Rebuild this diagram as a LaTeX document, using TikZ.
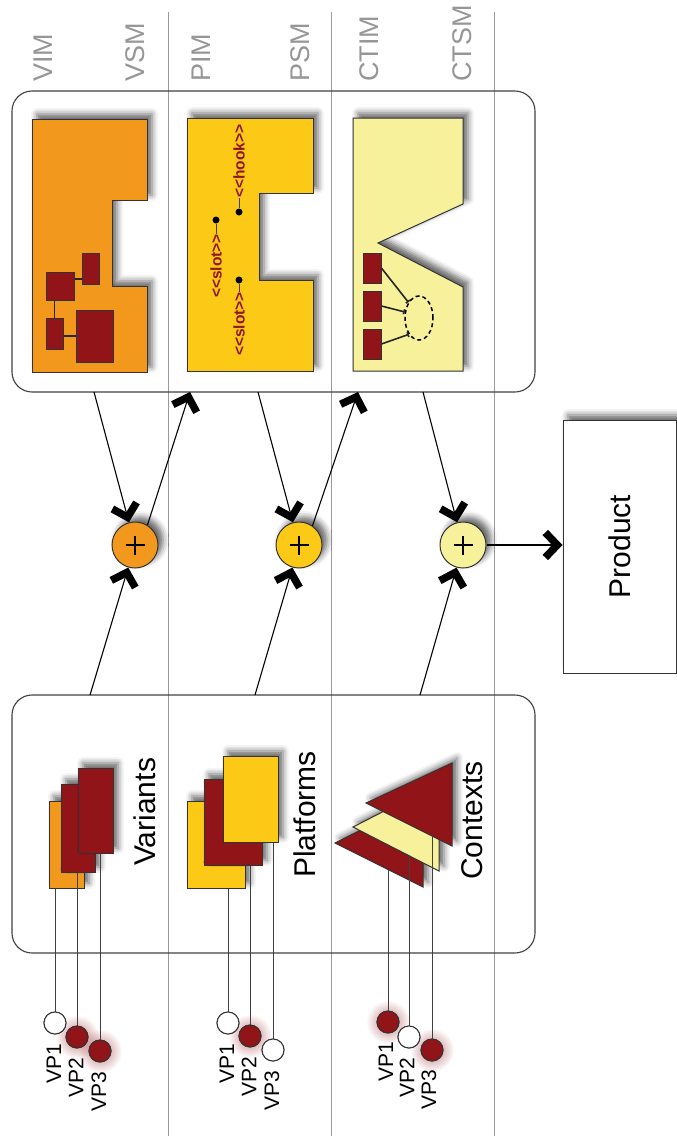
\documentclass[tikz,border=0pt]{standalone}
\usepackage{fontspec}
\setmainfont{Liberation Sans}
\newfontfamily\stereofont{Liberation Sans}[Ligatures=TeXOff]
\usetikzlibrary{arrows.meta,shadows.blur,fadings,shapes.geometric}
\definecolor{vorange}{RGB}{242,153,29}
\definecolor{pyellow}{RGB}{252,202,22}
\definecolor{cpale}{RGB}{247,241,155}
\definecolor{dred}{RGB}{145,20,25}
\definecolor{lanegray}{RGB}{155,155,155}
\definecolor{labgray}{RGB}{150,150,150}
\tikzfading[name=glowfade, inner color=transparent!0, outer color=transparent!100]
\begin{document}
\begin{tikzpicture}[x=1pt,y=-1pt,
  lane/.style={draw=lanegray, line width=1pt},
  bigbox/.style={draw=black!75, line width=1.1pt, rounded corners=20pt, inner sep=0},
  shad/.style={blur shadow={shadow xshift=5pt, shadow yshift=5pt, shadow blur radius=6pt, shadow opacity=60}},
  shapeb/.style={draw=black!80, line width=1pt, line join=miter, shad},
  rectb/.style={draw=black!80, line width=1pt, shad, inner sep=0},
  blk/.style={fill=dred, draw=black!80, line width=0.8pt, inner sep=0},
  conn/.style={draw=black!85, line width=1.6pt},
  stem/.style={draw=black!75, line width=1pt},
  plusc/.style={circle, draw=black!80, line width=1pt, minimum size=46pt, inner sep=0, shad},
  arr/.style={draw=black, line width=1.1pt, -{Straight Barb[sharp, length=12pt, width=25pt, line width=7.5pt]}},
  toplab/.style={text=labgray, font=\fontsize{27}{30}\selectfont, rotate=90, anchor=west, inner sep=0},
  biglab/.style={font=\fontsize{30}{34}\selectfont, rotate=90, anchor=west, inner sep=0},
  vplab/.style={font=\fontsize{21}{24}\selectfont, rotate=90, anchor=east, inner sep=0},
  vpw/.style={circle, draw=black!80, fill=white, line width=1pt, minimum size=22pt, inner sep=0},
  vpr/.style={circle, draw=black!80, fill=dred, line width=1pt, minimum size=22pt, inner sep=0},
  glow/.style={fill=dred, fill opacity=0.55, path fading=glowfade},
  stereo/.style={text=dred, font=\stereofont\bfseries\fontsize{15.5}{17}\selectfont, rotate=90, inner sep=0},
  dotn/.style={circle, fill=black, minimum size=7pt, inner sep=0}
]
\useasboundingbox (0,0) rectangle (677,1143);

% lanes
\draw[lane] (168,12) -- (168,1136);
\draw[lane] (331,12) -- (331,1136);
\draw[lane] (494,12) -- (494,1136);

% top labels
\node[toplab] (lvim) at (43,82) {VIM};
\node[toplab] (lvsm) at (135,82) {VSM};
\node[toplab] (lpim) at (201,82) {PIM};
\node[toplab] (lpsm) at (300,82) {PSM};
\node[toplab] (lctim) at (369,82) {CTIM};
\node[toplab] (lctsm) at (462,82) {CTSM};

% boxes
\node[bigbox, minimum width=523pt, minimum height=301pt] (topbox) at (273.5,241.5) {};
\node[bigbox, minimum width=523pt, minimum height=258pt] (botbox) at (273.5,824) {};

% VIM shape
\path[shapeb, fill=vorange] (32,119) -- (147,119) -- (147,200) -- (112,200) -- (112,286) -- (147,286) -- (147,372) -- (32,372) -- cycle;
\draw[conn] (60,279) -- (90,279);
\draw[conn] (54.5,300) -- (54.5,318);
\draw[conn] (63,336) -- (80,336);
\node[blk, minimum width=17pt, minimum height=31pt] (va) at (90.5,268.5) {};
\node[blk, minimum width=28pt, minimum height=28pt] (vb) at (60,286) {};
\node[blk, minimum width=17pt, minimum height=31pt] (vc) at (54.5,333.5) {};
\node[blk, minimum width=37pt, minimum height=52pt] (vd) at (94.5,336) {};

% PIM shape
\path[shapeb, fill=pyellow] (187,118) -- (313,118) -- (313,193) -- (259,193) -- (259,280) -- (313,280) -- (313,371) -- (187,371) -- cycle;
\node[dotn] (hk) at (239,212) {};
\node[stereo, anchor=west] (hkt) at (239,198) {<<hook>>};
\draw[stem] (hk) -- (hkt.west);
\node[dotn] (sl1) at (216,220) {};
\node[stereo, anchor=east] (sl1t) at (216,234) {<<slot>>};
\draw[stem] (sl1) -- (sl1t.east);
\node[dotn] (sl2) at (239,280) {};
\node[stereo, anchor=east] (sl2t) at (239,292) {<<slot>>};
\draw[stem] (sl2) -- (sl2t.east);

% CTIM shape
\path[shapeb, fill=cpale] (353,118) -- (463,118) -- (463,204) -- (378,243) -- (463,287) -- (463,371) -- (353,371) -- cycle;
\node[blk, minimum width=18pt, minimum height=30pt] (cb1) at (372,268) {};
\node[blk, minimum width=18pt, minimum height=30pt] (cb2) at (372,306) {};
\node[blk, minimum width=18pt, minimum height=30pt] (cb3) at (372,344) {};
\node[ellipse, draw=black, dash pattern=on 4pt off 3pt, line width=1.5pt, minimum width=28pt, minimum height=44pt, inner sep=0] (cel) at (419,318) {};
\draw[conn, -{Bar[width=5pt]}] (cb1.east) -- (cel.124);
\draw[conn, -{Bar[width=5pt]}] (cb2.east) -- (cel.157);
\draw[conn, -{Bar[width=5pt]}] (cb3.east) -- (cel.238);

% sum circles
\node[plusc, fill=vorange] (sumv) at (135,545) {};
\node[plusc, fill=pyellow] (sump) at (299,545) {};
\node[plusc, fill=cpale] (sumc) at (463,545) {};
\foreach \s in {sumv,sump,sumc}{
  \draw[line width=2.4pt] ([xshift=-9.5pt]\s.center) -- ([xshift=9.5pt]\s.center);
  \draw[line width=2.4pt] ([yshift=-9.5pt]\s.center) -- ([yshift=9.5pt]\s.center);
}

% product
\node[rectb, fill=white, rotate=90, minimum width=253pt, minimum height=113pt, font=\fontsize{30}{34}\selectfont] (prod) at (619.5,546.5) {Product};

% arrows
\coordinate (td1) at (94,392);
\coordinate (tu1) at (190,392);
\coordinate (td2) at (258,392);
\coordinate (tu2) at (358,392);
\coordinate (td3) at (423,392);
\coordinate (bu1) at (90,695);
\coordinate (bu2) at (255,695);
\coordinate (bu3) at (420,695);
\draw[arr] (td1) -- (sumv);
\draw[arr] (sumv.58) -- (tu1);
\draw[arr] (bu1) -- (sumv);
\draw[arr] (td2) -- (sump);
\draw[arr] (sump.55) -- (tu2);
\draw[arr] (bu2) -- (sump);
\draw[arr] (td3) -- (sumc);
\draw[arr] (bu3) -- (sumc);
\draw[arr] (sumc.east) -- (sumc.east -| prod.north);

% Variants
\node[vpw] (v1) at (55,1023) {};
\node[vpr] (v2) at (77,1037) {};
\node[vpr] (v3) at (100,1051) {};
\fill[glow] (v2) circle (22);
\fill[glow] (v3) circle (22);
\node[rectb, fill=vorange, minimum width=35pt, minimum height=87pt] (vo) at (66.5,844.5) {};
\draw[stem] (vo.south -| v1) -- (v1.north);
\node[rectb, fill=dred, minimum width=34pt, minimum height=88pt] (vr1) at (78,828) {};
\draw[stem] (vr1.south -| v2) -- (v2.north);
\node[rectb, fill=dred, minimum width=35pt, minimum height=85pt] (vr2) at (95.5,810.5) {};
\draw[stem] (vr2.south -| v3) -- (v3.north);
\node[vpw] at (v1) {};
\node[vpr] at (v2) {};
\node[vpr] at (v3) {};
\node[vplab] (v1l) at (54,1044) {VP1};
\node[vplab] (v2l) at (76,1058) {VP2};
\node[vplab] (v3l) at (99,1072) {VP3};
\node[biglab] (lvar) at (145,866) {Variants};

% Platforms
\node[vpw] (p1) at (228,1023) {};
\node[vpr] (p2) at (250,1036) {};
\node[vpw] (p3) at (273,1050) {};
\fill[glow] (p2) circle (22);
\node[rectb, fill=pyellow, minimum width=58pt, minimum height=87pt] (pbk) at (216,844.5) {};
\draw[stem] (pbk.south -| p1) -- (p1.north);
\node[rectb, fill=dred, minimum width=58pt, minimum height=86pt] (prd) at (233,822) {};
\draw[stem] (prd.south -| p2) -- (p2.north);
\node[rectb, fill=pyellow, minimum width=55pt, minimum height=86pt] (pfr) at (250.5,799) {};
\draw[stem] (pfr.south -| p3) -- (p3.north);
\node[vpw] at (p1) {};
\node[vpr] at (p2) {};
\node[vpw] at (p3) {};
\node[vplab] (p1l) at (227,1044) {VP1};
\node[vplab] (p2l) at (249,1057) {VP2};
\node[vplab] (p3l) at (272,1071) {VP3};
\node[biglab] (lplat) at (305,878) {Platforms};

% Contexts
\node[vpr] (c1) at (388,1022) {};
\node[vpw] (c2) at (409,1037) {};
\node[vpr] (c3) at (432,1050) {};
\fill[glow] (c1) circle (22);
\fill[glow] (c3) circle (22);
\path[shapeb, fill=dred] (335,843) -- (423,799) -- (423,887) -- cycle;
\coordinate (ce1) at (388,869.5);
\draw[stem] (ce1) -- (c1.north);
\path[shapeb, fill=cpale] (353,827) -- (439,783) -- (439,871) -- cycle;
\coordinate (ce2) at (409,855.7);
\draw[stem] (ce2) -- (c2.north);
\path[shapeb, fill=dred] (366,803) -- (452,763) -- (452,846) -- cycle;
\coordinate (ce3) at (432,836);
\draw[stem] (ce3) -- (c3.north);
\node[vpr] at (c1) {};
\node[vpw] at (c2) {};
\node[vpr] at (c3) {};
\node[vplab] (c1l) at (386,1042) {VP1};
\node[vplab] (c2l) at (407,1058) {VP2};
\node[vplab] (c3l) at (429,1070) {VP3};
\node[biglab] (lctx) at (472,880) {Contexts};
\end{tikzpicture}
\end{document}
